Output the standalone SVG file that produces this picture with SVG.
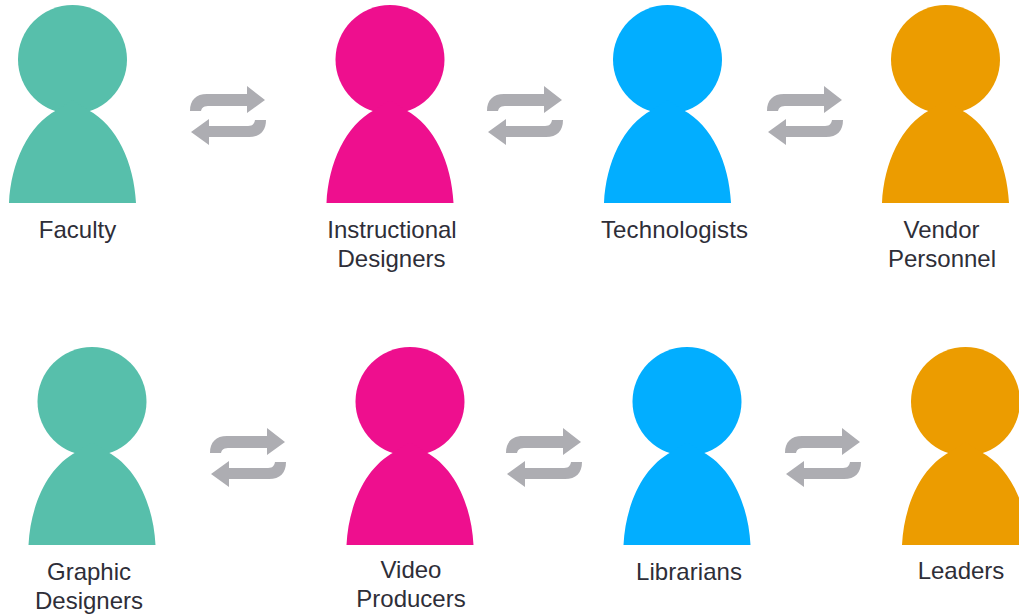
<svg xmlns="http://www.w3.org/2000/svg" width="1019" height="614" viewBox="0 0 1019 614">
<style>
.t{font-family:"Liberation Sans",Arial,sans-serif;font-size:24px;fill:#2e2e38;text-anchor:middle}
.g{fill:#57bfab}.m{fill:#ee0f8e}.b{fill:#02aeff}.o{fill:#ec9c00}
.a{fill:#adadb2}
</style>
<defs>
<g id="p"><circle cx="72.500" cy="59.500" r="54.500"/><path d="M9 203C11 163 28 125 57 110L72.500 100L88 110C117 125 134 163 136 203Z"/></g>
<g id="sw"><path d="M190 111C190 100 196 94 207 94H247V86L265 100L247 113V106H210C204 106 202 107 201 111Z"/><path d="M266 120C266 131 260 137 249 137H209V145L191 132L209 119V126H246C252 126 254 125 255 120Z"/></g>
</defs>
<rect width="1019" height="614" fill="#fff"/>
<g id="connectors" class="a">
<use href="#sw"/>
<use href="#sw" x="297"/>
<use href="#sw" x="577"/>
<use href="#sw" x="20" y="342"/>
<use href="#sw" x="316" y="342"/>
<use href="#sw" x="595" y="342"/>
</g>
<g id="faculty"><use href="#p" class="g"/><text class="t" x="77.500" y="238">Faculty</text></g>
<g id="instructional-designers"><use href="#p" class="m" x="317.500"/><text class="t" x="392" y="238">Instructional</text><text class="t" x="391.500" y="267">Designers</text></g>
<g id="technologists"><use href="#p" class="b" x="595"/><text class="t" x="674.500" y="238" textLength="147">Technologists</text></g>
<g id="vendor-personnel"><use href="#p" class="o" x="873"/><text class="t" x="941.500" y="238">Vendor</text><text class="t" x="942" y="267">Personnel</text></g>
<g id="graphic-designers"><use href="#p" class="g" x="19.500" y="342"/><text class="t" x="89" y="580">Graphic</text><text class="t" x="89" y="609">Designers</text></g>
<g id="video-producers"><use href="#p" class="m" x="337.500" y="342"/><text class="t" x="411" y="578">Video</text><text class="t" x="411" y="607">Producers</text></g>
<g id="librarians"><use href="#p" class="b" x="614.500" y="342"/><text class="t" x="689" y="580" textLength="106">Librarians</text></g>
<g id="leaders"><use href="#p" class="o" x="893" y="342"/><text class="t" x="961" y="579">Leaders</text></g>
</svg>
